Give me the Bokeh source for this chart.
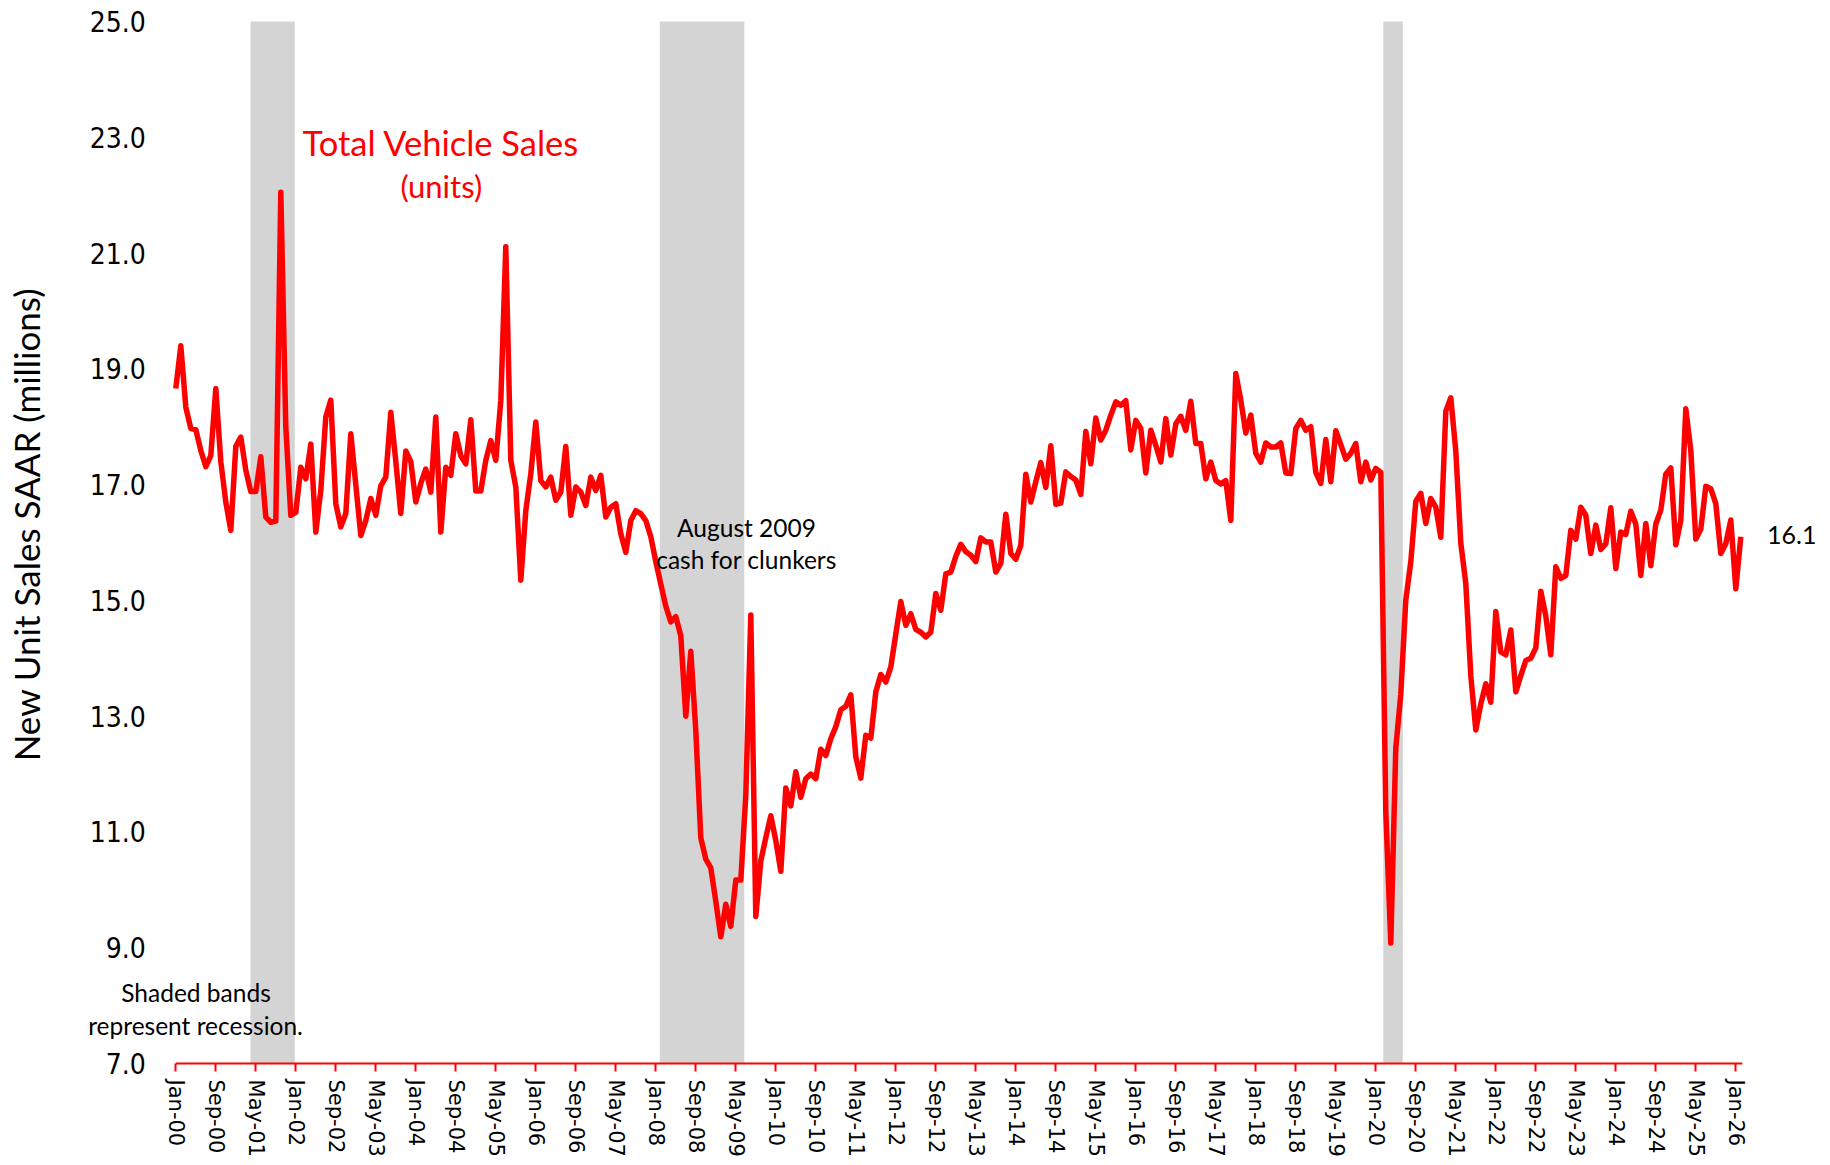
import math
from bokeh.plotting import figure
from bokeh.models import Range1d, FixedTicker, Label, PrintfTickFormatter
from bokeh.embed import file_html
from bokeh.resources import INLINE

# ---------------- data (monthly, Jan-2000 .. Feb-2026), millions SAAR ----------------
sales_2000 = [18.66, 19.40, 18.34, 17.97, 17.95, 17.59, 17.31, 17.50, 18.66, 17.40, 16.70, 16.21]
sales_2001 = [17.66, 17.82, 17.25, 16.88, 16.88, 17.48, 16.44, 16.35, 16.37, 22.05, 18.00, 16.47]
sales_2002 = [16.52, 17.30, 17.10, 17.70, 16.18, 16.90, 18.17, 18.46, 16.67, 16.27, 16.50, 17.88]
sales_2003 = [17.00, 16.12, 16.38, 16.76, 16.47, 16.98, 17.13, 18.25, 17.40, 16.50, 17.58, 17.40]
sales_2004 = [16.70, 17.02, 17.27, 16.87, 18.17, 16.18, 17.30, 17.16, 17.88, 17.50, 17.36, 18.12]
sales_2005 = [16.89, 16.89, 17.42, 17.76, 17.42, 18.45, 21.11, 17.42, 16.96, 15.35, 16.55, 17.19]
sales_2006 = [18.08, 17.07, 16.96, 17.13, 16.73, 16.87, 17.66, 16.47, 16.96, 16.87, 16.64, 17.13]
sales_2007 = [16.90, 17.16, 16.44, 16.61, 16.67, 16.15, 15.83, 16.38, 16.55, 16.50, 16.38, 16.10]
sales_2008 = [15.67, 15.28, 14.90, 14.63, 14.72, 14.39, 13.00, 14.12, 12.75, 10.90, 10.53, 10.38]
sales_2009 = [9.80, 9.19, 9.75, 9.37, 10.17, 10.17, 11.63, 14.75, 9.54, 10.50, 10.90, 11.28]
sales_2010 = [10.85, 10.32, 11.76, 11.45, 12.04, 11.60, 11.92, 12.00, 11.92, 12.43, 12.32, 12.61]
sales_2011 = [12.82, 13.11, 13.17, 13.37, 12.30, 11.93, 12.67, 12.62, 13.42, 13.72, 13.59, 13.85]
sales_2012 = [14.42, 14.98, 14.57, 14.77, 14.50, 14.45, 14.37, 14.45, 15.12, 14.83, 15.46, 15.49]
sales_2013 = [15.76, 15.97, 15.84, 15.78, 15.67, 16.08, 16.01, 16.01, 15.49, 15.64, 16.49, 15.81]
sales_2014 = [15.71, 15.95, 17.18, 16.70, 17.05, 17.38, 16.95, 17.67, 16.66, 16.68, 17.22, 17.14]
sales_2015 = [17.08, 16.83, 17.92, 17.36, 18.15, 17.77, 17.94, 18.20, 18.43, 18.37, 18.45, 17.60]
sales_2016 = [18.11, 17.97, 17.20, 17.94, 17.68, 17.39, 18.14, 17.51, 18.05, 18.18, 17.94, 18.44]
sales_2017 = [17.71, 17.71, 17.10, 17.39, 17.07, 17.01, 17.07, 16.38, 18.92, 18.46, 17.89, 18.20]
sales_2018 = [17.54, 17.39, 17.72, 17.65, 17.65, 17.72, 17.20, 17.19, 17.97, 18.11, 17.94, 18.00]
sales_2019 = [17.21, 17.02, 17.78, 17.05, 17.93, 17.69, 17.44, 17.54, 17.71, 17.05, 17.39, 17.08]
sales_2020 = [17.28, 17.21, 11.34, 9.08, 12.45, 13.38, 15.01, 15.67, 16.71, 16.85, 16.33, 16.76]
sales_2021 = [16.61, 16.09, 18.27, 18.50, 17.58, 15.99, 15.29, 13.70, 12.76, 13.21, 13.56, 13.24]
sales_2022 = [14.81, 14.11, 14.06, 14.49, 13.42, 13.70, 13.96, 14.00, 14.18, 15.16, 14.73, 14.06]
sales_2023 = [15.58, 15.38, 15.43, 16.21, 16.06, 16.61, 16.47, 15.81, 16.30, 15.88, 15.98, 16.60]
sales_2024 = [15.55, 16.18, 16.14, 16.54, 16.32, 15.43, 16.33, 15.60, 16.32, 16.56, 17.18, 17.29]
sales_2025 = [15.96, 16.38, 18.31, 17.59, 16.06, 16.23, 16.97, 16.93, 16.67, 15.81, 15.98, 16.39]
sales_2026 = [15.20, 16.10]

sales = (sales_2000 + sales_2001 + sales_2002 + sales_2003 + sales_2004 + sales_2005 +
         sales_2006 + sales_2007 + sales_2008 + sales_2009 + sales_2010 + sales_2011 +
         sales_2012 + sales_2013 + sales_2014 + sales_2015 + sales_2016 + sales_2017 +
         sales_2018 + sales_2019 + sales_2020 + sales_2021 + sales_2022 + sales_2023 +
         sales_2024 + sales_2025 + sales_2026)
month_index = list(range(len(sales)))  # 0 = Jan-2000

# recession bands (month index, as shaded in the source chart)
recession_start = [14.94, 96.8, 241.5]
recession_end = [23.8, 113.7, 245.4]

# axis ticks
x_tick_months = list(range(0, 313, 8))
x_tick_labels = ["Jan-00", "Sep-00", "May-01", "Jan-02", "Sep-02", "May-03", "Jan-04", "Sep-04",
                 "May-05", "Jan-06", "Sep-06", "May-07", "Jan-08", "Sep-08", "May-09", "Jan-10",
                 "Sep-10", "May-11", "Jan-12", "Sep-12", "May-13", "Jan-14", "Sep-14", "May-15",
                 "Jan-16", "Sep-16", "May-17", "Jan-18", "Sep-18", "May-19", "Jan-20", "Sep-20",
                 "May-21", "Jan-22", "Sep-22", "May-23", "Jan-24", "Sep-24", "May-25", "Jan-26"]
y_ticks = [7, 9, 11, 13, 15, 17, 19, 21, 23, 25]
y_min, y_max = 7, 25
x_last = len(sales) - 1 + 0.3

# ---------------- figure ----------------
W, H = 1826, 1163
p = figure(width=W, height=H,
           x_range=Range1d(-35.06, 330.14), y_range=Range1d(5.273, 25.363),
           output_backend="svg", toolbar_location=None,
           min_border_left=0, min_border_right=0, min_border_top=0, min_border_bottom=0)
p.xgrid.visible = False
p.ygrid.visible = False
p.outline_line_color = None
p.background_fill_color = "white"
p.border_fill_color = "white"

# recession shading
p.quad(left=recession_start, right=recession_end, bottom=y_min, top=y_max,
       fill_color="#D4D4D4", line_color=None)

# red x-axis baseline (only over the data span)
p.segment(x0=[0], y0=[y_min], x1=[x_last], y1=[y_min], line_color="#FF0000", line_width=2)

# sales line
p.line(month_index, sales, line_color="#FF0000", line_width=5.5, line_join="round")

# x axis, pinned at y = 7
xa = p.xaxis[0]
xa.fixed_location = y_min
xa.ticker = FixedTicker(ticks=x_tick_months)
xa.major_label_overrides = {m: lab for m, lab in zip(x_tick_months, x_tick_labels)}
xa.major_label_orientation = -math.pi / 2
xa.axis_line_color = None
xa.major_tick_line_color = "#FF0000"
xa.major_tick_line_width = 2
xa.major_tick_out = 8
xa.major_tick_in = 0
xa.minor_tick_out = 0
xa.minor_tick_in = 0
xa.major_label_standoff = 8
xa.major_label_text_font = "DejaVu Sans"
xa.major_label_text_font_size = "21px"
xa.major_label_text_color = "black"

# y axis, pinned at the first month
ya = p.yaxis[0]
ya.fixed_location = 0
ya.ticker = FixedTicker(ticks=y_ticks)
ya.formatter = PrintfTickFormatter(format="%.1f")
ya.axis_line_color = None
ya.major_tick_line_color = None
ya.minor_tick_line_color = None
ya.major_tick_out = 0
ya.major_tick_in = 0
ya.major_label_standoff = 30
ya.major_label_text_font = "DejaVu Sans Condensed"
ya.major_label_text_font_size = "28px"
ya.major_label_text_color = "black"

# text annotations
def add_label(x, y, text, size, color="black", angle=0.0):
    p.add_layout(Label(x=x, y=y, text=text, text_align="center", text_baseline="middle",
                       text_font="Lato", text_font_size=size, text_color=color, angle=angle))

add_label(-29.9, 16.311, "New Unit Sales SAAR (millions)", "35px", angle=math.pi / 2)
add_label(53.04, 22.918, "Total Vehicle Sales", "34.5px", "#FF0000")
add_label(53.1, 22.150, "(units)", "31px", "#FF0000")
add_label(114.14, 16.259, "August 2009", "24.5px")
add_label(114.14, 15.706, "cash for clunkers", "24.5px")
add_label(4.04, 8.226, "Shaded bands", "24.5px")
add_label(3.94, 7.657, "represent recession.", "24.5px")
add_label(323.2, sales[-1] + 0.03, "%.1f" % sales[-1], "25px")

open("out.html", "w").write(file_html(p, INLINE))
